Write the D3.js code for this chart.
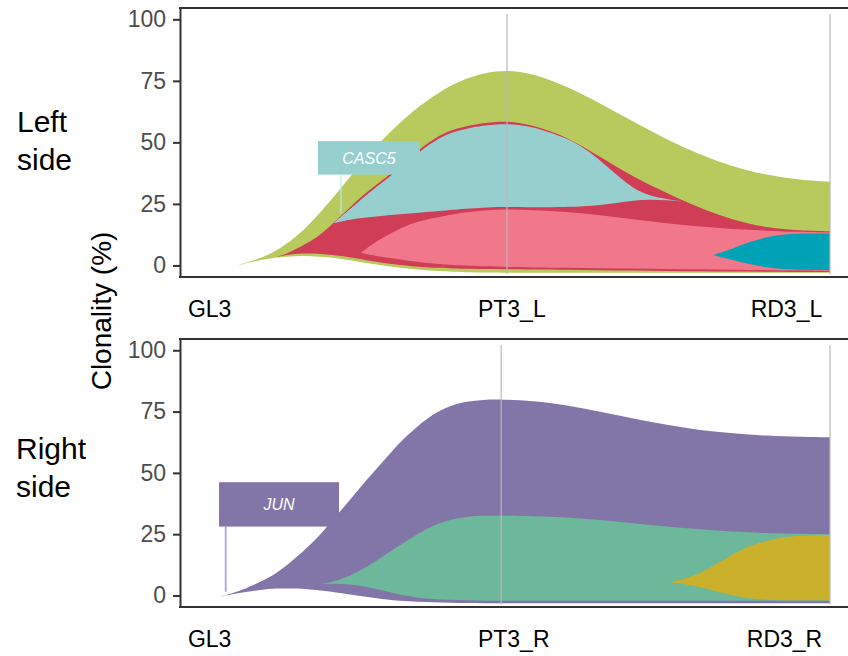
<!DOCTYPE html>
<html>
<head>
<meta charset="utf-8">
<script src="https://cdnjs.cloudflare.com/ajax/libs/d3/7.8.5/d3.min.js"></script>
<style>
  body { margin: 0; background: #fff; }
  text { font-family: "Liberation Sans", Arial, Helvetica, sans-serif; }
</style>
</head>
<body>
<script>
// clone outlines: [time, lower %, upper %]
var leftGreen = [
  [7.6, -0.7, -0.7], [9.4, 0.8, 1.0], [11.8, 2.2, 2.8], [14.9, 3.4, 6.8], [18.0, 4.0, 12.8],
  [21.1, 3.6, 21.5], [24.2, 2.8, 31], [27.2, 1.4, 40.8], [30.3, 0.2, 50], [33.4, -1.0, 58],
  [36.5, -1.8, 65], [39.6, -2.3, 70.5], [41.6, -2.6, 73.5], [44.3, -2.8, 76.5], [46.9, -2.9, 78.5],
  [50, -3.0, 79.4], [54.0, -3.0, 78.1], [59.3, -3.0, 72.7], [64.4, -3.0, 65.9], [69.5, -3.0, 58.5],
  [74.8, -3.0, 51.1], [79.9, -3.0, 45.0], [85.0, -3.0, 40.1], [90.2, -3.0, 36.7], [95.4, -3.0, 34.7],
  [100, -3.0, 34.0]
];
var leftRed = [
  [14.4, 3.5, 3.5], [16.4, 4.5, 5.3], [19.0, 4.9, 8.9], [21.1, 4.7, 12.3], [23.1, 4.3, 17.1],
  [26.2, 3.2, 25], [28.8, 1.8, 31], [32.4, 0.4, 38], [36.5, -0.6, 47.5], [39.6, -1.0, 53],
  [41.6, -1.2, 55.2], [44.3, -1.4, 57], [46.9, -1.5, 58], [50, -1.6, 58.8], [54.0, -1.7, 57.0],
  [59.3, -1.8, 52.3], [64.4, -1.9, 44.1], [69.5, -2.1, 36.0], [74.8, -2.2, 29.3], [79.9, -2.4, 23.2],
  [85.0, -2.5, 18.4], [90.2, -2.6, 15.3], [95.4, -2.7, 14.1], [100, -2.7, 13.9]
];
var leftCyan = [
  [23.1, 17.1, 17.1], [26.2, 18.9, 24.0], [28.8, 19.6, 30.0], [32.4, 20.6, 37.0], [36.5, 21.4, 46.5],
  [39.6, 22.1, 52], [41.6, 22.6, 54.2], [44.3, 23.1, 56], [46.9, 23.6, 57], [50, 23.8, 57.7],
  [54.0, 23.6, 56.6], [59.3, 23.7, 51.6], [61.8, 24.0, 48.0], [64.4, 24.5, 42.8], [67.0, 25.4, 36.7],
  [69.5, 26.3, 31.3], [72.1, 26.8, 28.2], [74.8, 26.5, 27.0], [77.1, 26.0, 26.0]
];
var leftPink = [
  [27.4, 5.2, 5.2], [29.3, 4.0, 9.0], [31.9, 3.0, 13.0], [34.5, 2.0, 16.4], [37.0, 1.2, 18.4],
  [39.6, 0.6, 19.6], [41.6, 0.1, 21.0], [46.9, -0.4, 22.5], [50, -0.6, 22.8], [54.0, -0.8, 22.5],
  [59.3, -1.0, 21.8], [64.4, -1.1, 20.4], [69.5, -1.3, 18.8], [74.8, -1.4, 17.1], [79.9, -1.6, 15.7],
  [85.0, -1.8, 14.8], [90.2, -1.9, 14.1], [95.4, -2.1, 13.6], [100, -2.2, 13.4]
];
var leftTeal = [
  [81.9, 4.2, 4.2], [85.0, 2.2, 6.9], [87.6, 0.5, 9.6], [90.2, -0.8, 11.6], [92.7, -1.5, 12.6],
  [95.4, -1.8, 13.0], [100, -1.9, 13.0]
];

var rightPurple = [
  [5.1, -0.8, -0.8], [7.6, 0.6, 1.0], [9.1, 1.2, 2.3], [11.8, 2.3, 5.5], [14.4, 2.9, 9.1],
  [16.9, 2.9, 14.5], [19.5, 2.5, 20.5], [21.5, 2.0, 26], [24.1, 1.0, 34], [27.2, -0.2, 44],
  [30.8, -1.5, 54.5], [33.4, -2.2, 62.5], [36.1, -2.6, 69], [38.5, -2.8, 74], [41.2, -3.0, 77.5],
  [43.8, -3.1, 79.2], [46.3, -3.2, 79.8], [49.1, -3.2, 80.0], [54.0, -3.2, 79.4], [59.3, -3.2, 77.6],
  [64.4, -3.2, 74.9], [69.5, -3.2, 72.2], [74.8, -3.2, 69.5], [79.9, -3.2, 67.4], [85.0, -3.2, 66.1],
  [90.2, -3.2, 65.1], [95.4, -3.2, 64.7], [100, -3.2, 64.5]
];
var rightGreen = [
  [21.1, 4.7, 4.7], [23.1, 4.9, 5.5], [25.7, 4.6, 8.0], [28.3, 3.6, 11.5], [30.8, 2.0, 16],
  [33.4, 0.3, 20.5], [36.1, -0.9, 25], [38.5, -1.5, 28.5], [41.2, -1.8, 31], [43.8, -2.0, 32.2],
  [46.3, -2.1, 32.5], [49.1, -2.2, 32.6], [54.0, -2.2, 32.4], [59.3, -2.2, 31.9], [64.4, -2.2, 30.8],
  [69.5, -2.2, 29.5], [74.8, -2.2, 28.1], [79.9, -2.2, 27.0], [85.0, -2.2, 26.0], [90.2, -2.2, 25.4],
  [95.4, -2.2, 25.1], [100, -2.2, 25.0]
];
var rightYellow = [
  [75.2, 5.4, 5.4], [77.2, 4.8, 6.4], [79.9, 3.4, 9.1], [82.5, 1.6, 12.9], [85.0, -0.1, 17.0],
  [87.6, -1.2, 20.2], [90.2, -1.8, 22.4], [92.7, -1.9, 23.8], [95.4, -2.0, 24.4], [100, -2.0, 24.7]
];

var leftTimes = [50, 100];
var rightTimes = [49.1, 100];
var leftSamples = ["GL3", "PT3_L", "RD3_L"];
var rightSamples = ["GL3", "PT3_R", "RD3_R"];
var sampleLabelAt = [0.6, 45.5, 98.8];
var yTicks = [0, 25, 50, 75, 100];

// gene labels: name, time, bottom of pointer (%), top of pointer (%)
var leftGenes = [["CASC5", 24.3, 21.2, 36.9]];
var rightGenes = [["JUN", 6.46, 1.5, 28.1]];

var W = 848, H = 656;
var svg = d3.select("body").append("svg").attr("width", W).attr("height", H);

var x = d3.scaleLinear().domain([0, 100]).range([184, 830]);

function drawPanel(p) {
  var y = d3.scaleLinear().domain([-4.7, 104.6]).range([p.bottom, p.top]);
  var g = svg.append("g");

  var area = d3.area()
    .curve(d3.curveBasis)
    .x(function(d) { return x(d[0]); })
    .y0(function(d) { return y(d[1]); })
    .y1(function(d) { return y(d[2]); });

  p.clones.forEach(function(c) {
    g.append("path").attr("d", area(c[0])).attr("fill", c[1]);
  });

  p.times.forEach(function(t) {
    g.append("line")
      .attr("x1", x(t)).attr("x2", x(t))
      .attr("y1", y(-3.6)).attr("y2", y(102.2))
      .attr("stroke", "#b9b9b9").attr("stroke-width", 1.2);
  });

  p.genes.forEach(function(d, i) {
    var st = p.geneStyle[i];
    var lx = x(d[1]);
    g.append("line")
      .attr("x1", lx).attr("x2", lx)
      .attr("y1", y(d[2])).attr("y2", y(d[3]))
      .attr("stroke", st.line).attr("stroke-width", st.lw);
    g.append("rect")
      .attr("x", lx + st.dx).attr("y", y(d[3]) - st.h)
      .attr("width", st.w).attr("height", st.h)
      .attr("fill", st.fill);
    g.append("text")
      .attr("x", lx + st.dx + st.w / 2).attr("y", y(d[3]) - st.h / 2 + 6)
      .attr("text-anchor", "middle")
      .attr("font-size", 16).attr("font-style", "italic")
      .attr("fill", "#fff")
      .text(d[0]);
  });

  // frame
  g.append("line").attr("x1", 179).attr("x2", W + 2).attr("y1", p.top).attr("y2", p.top)
    .attr("stroke", "#333").attr("stroke-width", 2);
  g.append("line").attr("x1", 179).attr("x2", W + 2).attr("y1", p.bottom).attr("y2", p.bottom)
    .attr("stroke", "#333").attr("stroke-width", 2);

  var ax = g.append("g").attr("transform", "translate(180,0)")
    .call(d3.axisLeft(y).tickValues(yTicks).tickSize(7).tickPadding(7).tickSizeOuter(0));
  ax.select(".domain").attr("stroke", "#333").attr("stroke-width", 2);
  ax.selectAll(".tick line").attr("stroke", "#333").attr("stroke-width", 2);
  ax.selectAll(".tick text")
    .attr("font-size", 23).attr("fill", "#4d4d4d")
    .attr("font-family", "'Liberation Sans', Arial, sans-serif");

  var anchors = ["start", "start", "end"];
  p.samples.forEach(function(s, i) {
    g.append("text")
      .attr("x", x(sampleLabelAt[i])).attr("y", p.bottom + 40)
      .attr("text-anchor", anchors[i])
      .attr("font-size", 23).attr("fill", "#000")
      .text(s);
  });

  var nm = g.append("text").attr("font-size", 30).attr("fill", "#000");
  nm.append("tspan").attr("x", p.nameX).attr("y", p.nameY).text(p.name[0]);
  nm.append("tspan").attr("x", p.nameX).attr("y", p.nameY + 38).text(p.name[1]);
}

drawPanel({
  top: 8, bottom: 277,
  clones: [[leftGreen, "#b8ca5e"], [leftRed, "#d03d56"], [leftCyan, "#97cfcf"],
           [leftPink, "#f1778a"], [leftTeal, "#00a3b5"]],
  times: leftTimes,
  samples: leftSamples,
  genes: leftGenes,
  geneStyle: [{dx: -23, w: 102, h: 33.5, fill: "#97cfcf", line: "#c4e6e6", lw: 1.2}],
  name: ["Left", "side"], nameX: 17, nameY: 132
});

drawPanel({
  top: 339, bottom: 607,
  clones: [[rightPurple, "#8276a9"], [rightGreen, "#6db79a"], [rightYellow, "#cbb02b"]],
  times: rightTimes,
  samples: rightSamples,
  genes: rightGenes,
  geneStyle: [{dx: -6.7, w: 120, h: 44.4, fill: "#8276a9", line: "#b7b0d4", lw: 2}],
  name: ["Right", "side"], nameX: 16, nameY: 459
});

svg.append("text")
  .attr("transform", "translate(111,311) rotate(-90)")
  .attr("text-anchor", "middle")
  .attr("font-size", 28).attr("fill", "#000")
  .text("Clonality (%)");
</script>
</body>
</html>
